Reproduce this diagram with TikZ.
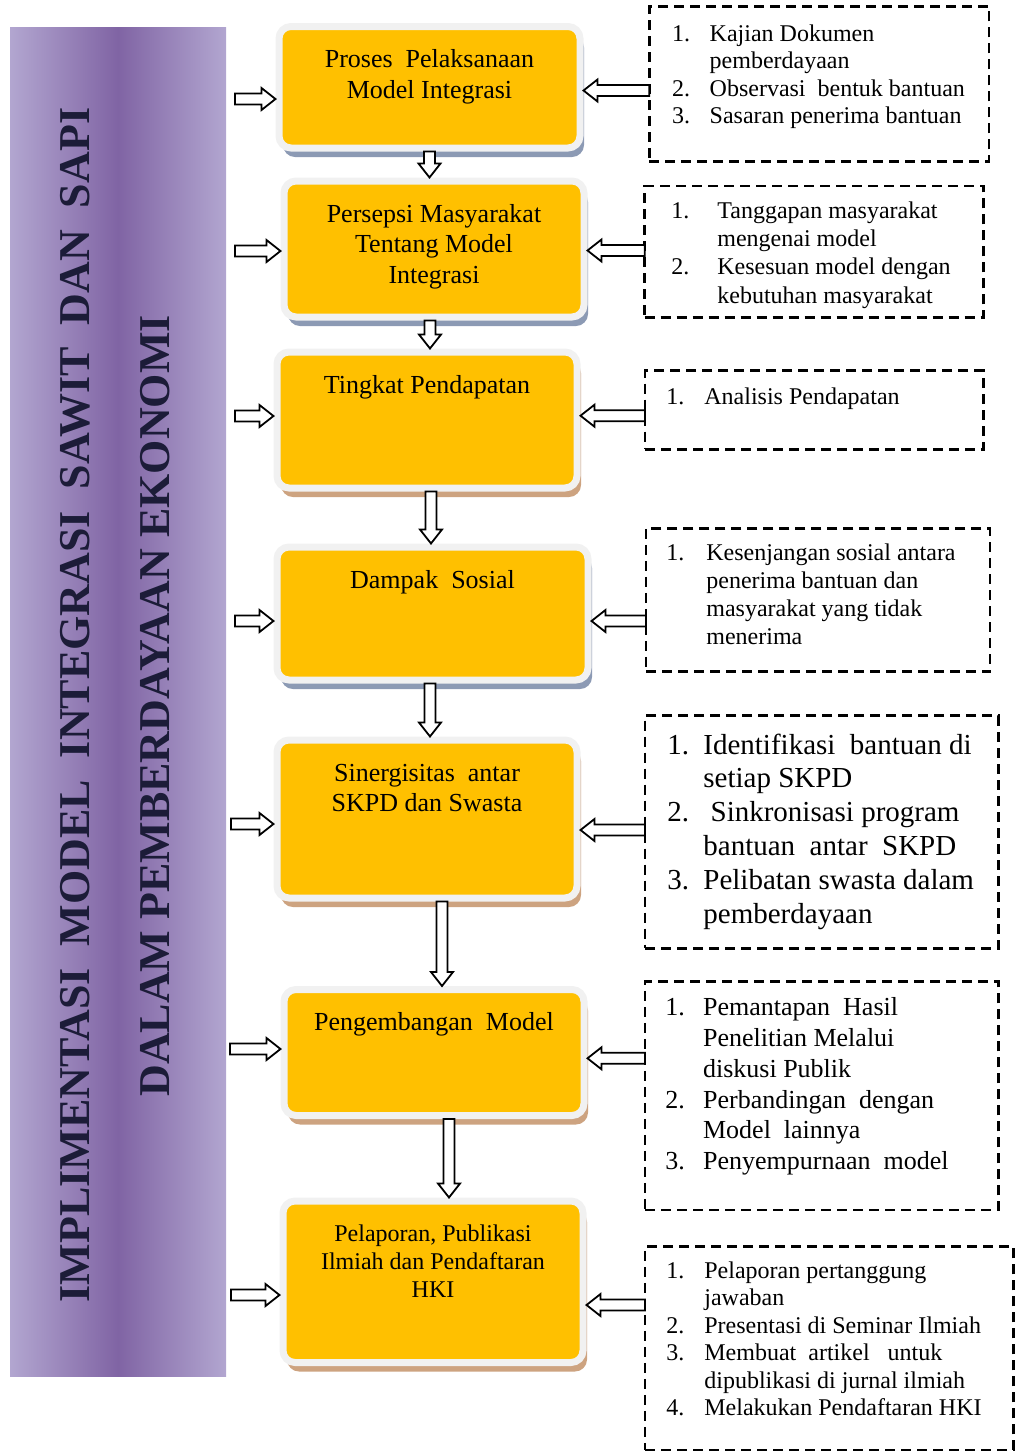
\documentclass[tikz,border=0pt]{standalone}
\usepackage{fontspec}
\setmainfont{Liberation Serif}
\usepackage{tikz}
\usetikzlibrary{calc,positioning,shadows}
\definecolor{boxorange}{RGB}{255,192,0}
\definecolor{boxframe}{RGB}{241,241,241}
\definecolor{shblue}{RGB}{140,154,180}
\definecolor{shtan}{RGB}{205,163,128}
\definecolor{barlight}{RGB}{178,166,208}
\definecolor{bardark}{RGB}{128,100,164}
\definecolor{titleink}{RGB}{28,28,56}

\newlength{\px}\setlength{\px}{0.5pt}

% hollow block arrows: tail #1, tip #2
\newcommand{\blkR}[2]{%
  \draw[blockarrow] let \p1=(#1), \p2=(#2) in
    (\x1,\y2+2.75pt) -- (\x2-7pt,\y2+2.75pt) -- (\x2-7pt,\y2+5.5pt) -- (\x2,\y2)
    -- (\x2-7pt,\y2-5.5pt) -- (\x2-7pt,\y2-2.75pt) -- (\x1,\y2-2.75pt) -- cycle;}
\newcommand{\blkL}[2]{%
  \draw[blockarrow] let \p1=(#1), \p2=(#2) in
    (\x1,\y2+2.75pt) -- (\x2+7pt,\y2+2.75pt) -- (\x2+7pt,\y2+5.5pt) -- (\x2,\y2)
    -- (\x2+7pt,\y2-5.5pt) -- (\x2+7pt,\y2-2.75pt) -- (\x1,\y2-2.75pt) -- cycle;}
\newcommand{\blkD}[2]{%
  \draw[blockarrow] let \p1=(#1), \p2=(#2) in
    (\x1-2.75pt,\y1) -- (\x1-2.75pt,\y2+7pt) -- (\x1-5.5pt,\y2+7pt) -- (\x1,\y2)
    -- (\x1+5.5pt,\y2+7pt) -- (\x1+2.75pt,\y2+7pt) -- (\x1+2.75pt,\y1) -- cycle;}
\newcommand{\boxlines}[1]{\begin{tabular}[t]{@{}c@{}}#1\end{tabular}}
\newcommand{\pointlist}[2]{\begin{tabular}[t]{@{}p{#1}@{}l@{}}#2\end{tabular}}

\tikzset{
  procbox/.style={draw=boxframe, fill=boxorange, line width=7\px, rounded corners=6pt},
  boxtext/.style={anchor=base, inner sep=0pt, font=\fontsize{13}{15.3}\selectfont},
  listbox/.style={draw=black, dash pattern=on 5pt off 3pt, line width=1.4pt, outer sep=0pt, inner sep=0pt},
  listtext/.style={anchor=base west, inner sep=0pt},
  titletext/.style={rotate=90, inner sep=0pt, text=titleink, font=\fontsize{22}{26}\selectfont\bfseries},
  blockarrow/.style={draw=black, fill=white, line width=0.9pt, line join=miter},
}

\begin{document}
\begin{tikzpicture}[x=0.5pt, y=-0.5pt]
  \useasboundingbox (0,0) rectangle (1016,1452);
  % side banner
  \shade[left color=barlight, right color=barlight, middle color=bardark] (10,27) rectangle (226,1376);
  \node[titletext] (title1) at (75,705) {IMPLIMENTASI\ \ MODEL\ \ INTEGRASI\ \ SAWIT\ \ DAN\ \ SAPI};
  \node[titletext] (title2) at (155,706) {DALAM PEMBERDAYAAN EKONOMI};

  % stages (orange boxes)
  \foreach \i/\cx/\cy/\w/\h/\sh in {1/429.5/87.25/301/121.5/shblue, 2/434/249/300/136/shblue,
      3/427/420/300/136/shtan, 4/432.5/613.5/311/133/shblue, 5/427/819/300/158/shtan,
      6/434/1052.5/300/126/shtan, 7/433/1281.75/300/161.5/shtan}
    \node[procbox, minimum width=\w\px, minimum height=\h\px,
      general shadow={fill=\sh, shadow xshift=2pt, shadow yshift=-4.5pt}] (b\i) at (\cx,\cy) {};
  \node[boxtext] (s1) at ($(b1.north)+(0,44.5)$) {\boxlines{Proses\ \ Pelaksanaan\\Model Integrasi}};
  \node[boxtext] (s2) at ($(b2.north)+(0,44.5)$) {\boxlines{Persepsi Masyarakat\\Tentang Model\\Integrasi}};
  \node[boxtext] (s3) at ($(b3.north)+(0,44.5)$) {Tingkat Pendapatan};
  \node[boxtext] (s4) at ($(b4.north)+(0,44.5)$) {Dampak\ \ Sosial};
  \node[boxtext] (s5) at ($(b5.north)+(0,44.5)$) {\boxlines{Sinergisitas\ \ antar\\SKPD dan Swasta}};
  \node[boxtext] (s6) at ($(b6.north)+(0,44.5)$) {Pengembangan\ \ Model};
  \node[boxtext, font=\fontsize{12}{14}\selectfont] (s7) at ($(b7.north)+(0,44)$)
    {\boxlines{Pelaporan, Publikasi\\Ilmiah dan Pendaftaran\\HKI}};

  % activity lists (dashed boxes)
  \foreach \i/\cx/\cy/\w/\h in {1/819.15/84.2/339.7/155, 2/814/251.85/338.6/131.7,
      3/814.15/410/338.3/78.6, 4/818/600/344/143.4, 5/821.65/832/353.3/232.6,
      6/821.65/1095.85/353.3/228.3, 7/829.15/1348.35/368.3/203.3}
    \node[listbox, minimum width=\w\px, minimum height=\h\px] (d\i) at (\cx,\cy) {};
  \node[listtext, font=\fontsize{12}{13.6}\selectfont] (l1) at (671.7,41.7)
    {\pointlist{37.6\px}{1. & Kajian Dokumen\\ & pemberdayaan\\ 2. & Observasi\ \ bentuk bantuan\\ 3. & Sasaran penerima bantuan}};
  \node[listtext, font=\fontsize{12}{14.15}\selectfont] (l2) at (671,218.3)
    {\pointlist{46\px}{1. & Tanggapan masyarakat\\ & mengenai model\\ 2. & Kesesuan model dengan\\ & kebutuhan masyarakat}};
  \node[listtext, font=\fontsize{12}{14}\selectfont] (l3) at (666,404)
    {\pointlist{38\px}{1. & Analisis Pendapatan}};
  \node[listtext, font=\fontsize{12}{14}\selectfont] (l4) at (666,560)
    {\pointlist{40\px}{1. & Kesenjangan sosial antara\\ & penerima bantuan dan\\ & masyarakat yang tidak\\ & menerima}};
  \node[listtext, font=\fontsize{14.5}{16.9}\selectfont] (l5) at (667,754)
    {\pointlist{36\px}{1. & Identifikasi\ \ bantuan di\\ & setiap SKPD\\ 2. & \ Sinkronisasi program\\ & bantuan\ \ antar\ \ SKPD\\ 3. & Pelibatan swasta dalam\\ & pemberdayaan}};
  \node[listtext, font=\fontsize{13}{15.4}\selectfont] (l6) at (665,1015.7)
    {\pointlist{37.7\px}{1. & Pemantapan\ \ Hasil\\ & Penelitian Melalui\\ & diskusi Publik\\ 2. & Perbandingan\ \ dengan\\ & Model\ \ lainnya\\ 3. & Penyempurnaan\ \ model}};
  \node[listtext, font=\fontsize{12}{13.75}\selectfont] (l7) at (666,1278.3)
    {\pointlist{38\px}{1. & Pelaporan pertanggung\\ & jawaban\\ 2. & Presentasi di Seminar Ilmiah\\ 3. & Membuat\ \ artikel\ \ \ untuk\\ & dipublikasi di jurnal ilmiah\\ 4. & Melakukan Pendaftaran HKI}};

  % arrows from the banner
  \foreach \i/\x/\y in {1/235/99, 2/235/251, 3/235/416, 4/235/621, 5/231/824, 6/230/1049, 7/231/1295}
    \coordinate (in\i) at (\x,\y);
  \foreach \i in {1,...,7} \blkR{in\i}{b\i.west |- in\i};
  % arrows from the lists
  \foreach \i/\y in {1/90.5, 2/250.5, 3/415.7, 4/621, 5/830, 6/1058.3, 7/1305}
    \coordinate (r\i) at (600,\y);
  \foreach \i in {1,...,7} \blkL{d\i.west |- r\i}{b\i.east |- r\i};
  % flow between stages
  \foreach \i/\j/\dx in {1/2/0, 2/3/-4, 3/4/4, 4/5/-2.5, 5/6/15, 6/7/15}
    \blkD{$(b\i.south)+(\dx,0)$}{b\j.north};
\end{tikzpicture}
\end{document}
